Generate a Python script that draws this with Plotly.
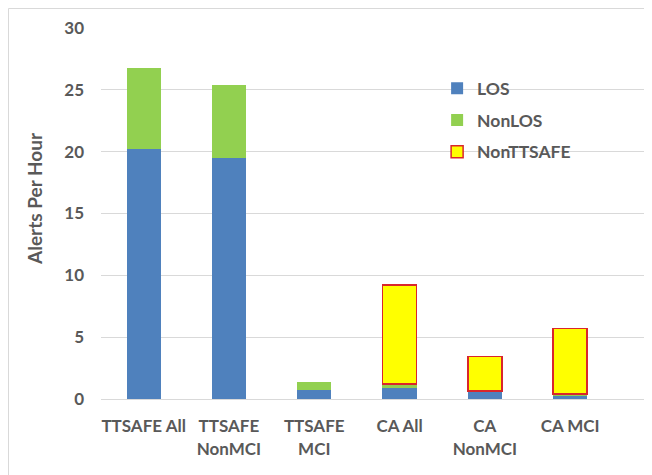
import plotly.graph_objects as go

categories = ["TTSAFE All", "TTSAFE<br>NonMCI", "TTSAFE<br>MCI", "CA All", "CA<br>NonMCI", "CA MCI"]
los = [20.2, 19.5, 0.7, 0.9, 0.63, 0.25]
nonlos = [6.6, 5.9, 0.7, 0.3, 0.03, 0.15]
nonttsafe = [None, None, None, 8.0, 2.78, 5.3]
y_ticks = [0, 5, 10, 15, 20, 25, 30]

FONT = "Lato"
GREY = "#595959"

W, H = 644, 467
L, R, T, B = 93, 0, 20, 76
PW, PH = W - L - R, H - T - B

fig = go.Figure()
fig.add_trace(go.Bar(x=categories, y=los, name="LOS", legendgroup="a",
                     marker=dict(color="#4F81BD", line=dict(width=0))))
fig.add_trace(go.Bar(x=categories, y=nonlos, name="NonLOS", legendgroup="b",
                     marker=dict(color="#92D050", line=dict(width=0))))
fig.add_trace(go.Bar(x=categories, y=nonttsafe, name="NonTTSAFE", legendgroup="c",
                     marker=dict(color="#FFFF00", line=dict(color="#D9262B", width=1.5))))

fig.update_layout(
    barmode="stack",
    bargap=0.6,
    width=W, height=H,
    margin=dict(l=L, r=R, t=T, b=B),
    paper_bgcolor="white", plot_bgcolor="white",
    font=dict(family=FONT, color=GREY, size=16, weight="bold"),
    showlegend=True,
    legend=dict(x=0.61, y=0.886, xanchor="left", yanchor="top",
                bgcolor="rgba(0,0,0,0)", traceorder="grouped",
                tracegroupgap=6, font=dict(size=17.5, color=GREY, family=FONT, weight="bold")),
    xaxis=dict(range=[-0.5, 5.96], showgrid=False, showline=True,
               linecolor="#D9D9D9", linewidth=1, ticks="",
               ticklabelstandoff=12,
               tickfont=dict(size=17, color=GREY, family=FONT, weight="bold")),
    yaxis=dict(range=[0, 30], tickvals=y_ticks, showgrid=True, gridcolor="#D9D9D9",
               gridwidth=1, zeroline=False, showline=False, ticks="",
               ticklabelstandoff=16,
               tickfont=dict(size=17, color=GREY, family=FONT, weight="bold")),
    annotations=[
        dict(text="Alerts Per Hour", textangle=-90, xref="paper", yref="paper",
             x=(27 - L) / PW, y=1 - (191 - T) / PH, xanchor="center", yanchor="middle",
             showarrow=False, font=dict(size=19, color=GREY, family=FONT, weight="bold")),
    ],
    shapes=[
        dict(type="line", xref="paper", yref="paper", x0=-(L - 0.5) / PW, x1=1.0,
             y0=1 + (T - 0.5) / PH, y1=1 + (T - 0.5) / PH, line=dict(color="#D9D9D9", width=1)),
        dict(type="line", xref="paper", yref="paper", x0=-(L - 0.5) / PW, x1=-(L - 0.5) / PW,
             y0=-B / PH, y1=1 + (T - 0.5) / PH, line=dict(color="#D9D9D9", width=1)),
    ],
)

fig.write_html("out.html")
